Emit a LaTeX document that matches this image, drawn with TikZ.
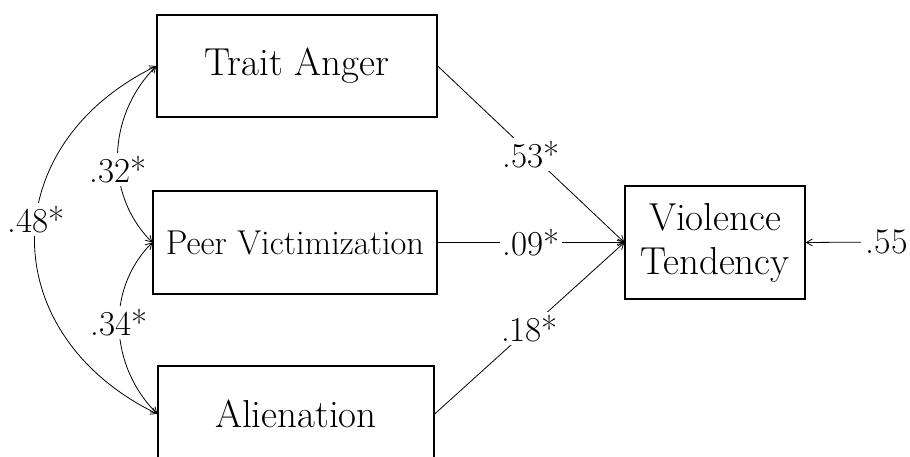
\documentclass[tikz,border=0pt]{standalone}
\usetikzlibrary{arrows.meta}
\begin{document}
\begin{tikzpicture}[x=1pt, y=1pt,
  var/.style={draw, line width=1.3pt, inner sep=0pt, font=\fontsize{39}{44}\selectfont},
  coef/.style={fill=white, inner sep=3pt, font=\fontsize{35}{40}\selectfont},
  effect/.style={line width=0.8pt, -{Straight Barb[length=6pt,width=7pt]}},
  cov/.style={line width=0.8pt, {Straight Barb[length=6pt,width=7pt]}-{Straight Barb[length=6pt,width=7pt]}}]
\useasboundingbox (0,0) rectangle (910,457);
\clip (0,0) rectangle (910,457);

% Predictors and outcome
\node[var, minimum width=280pt, minimum height=102pt] (ta) at (297,391) {Trait Anger};
\node[var, minimum width=284pt, minimum height=103pt, font=\fontsize{34.5}{40}\selectfont] (pv) at (295,214.5) {Peer Victimization};
\node[var, minimum width=276pt, minimum height=96pt] (al) at (296,43) {Alienation};
\node[var, minimum width=180pt, minimum height=113pt, align=center] (vt) at (715,214.5) {Violence\\Tendency};
\node[inner sep=5pt, font=\fontsize{36}{40}\selectfont] (e) at (887,215) {.55};

% Paths
\draw[effect] (ta.east) -- node[coef] {.53*} (vt.west);
\draw[effect] (pv.east) -- node[coef] {.09*} (vt.west);
\draw[effect] (al.east) -- node[coef] {.18*} (vt.west);
\draw[effect] (e) -- (vt.east);

% Correlations
\draw[cov] (ta.west) to[out=206, in=154, looseness=1.33] node[coef, pos=0.45] {.48*} (al.west);
\draw[cov] (ta.west) to[out=225, in=135] node[coef, pos=0.58] {.32*} (pv.west);
\draw[cov] (pv.west) to[out=225, in=135] node[coef, pos=0.47] {.34*} (al.west);
\end{tikzpicture}
\end{document}
